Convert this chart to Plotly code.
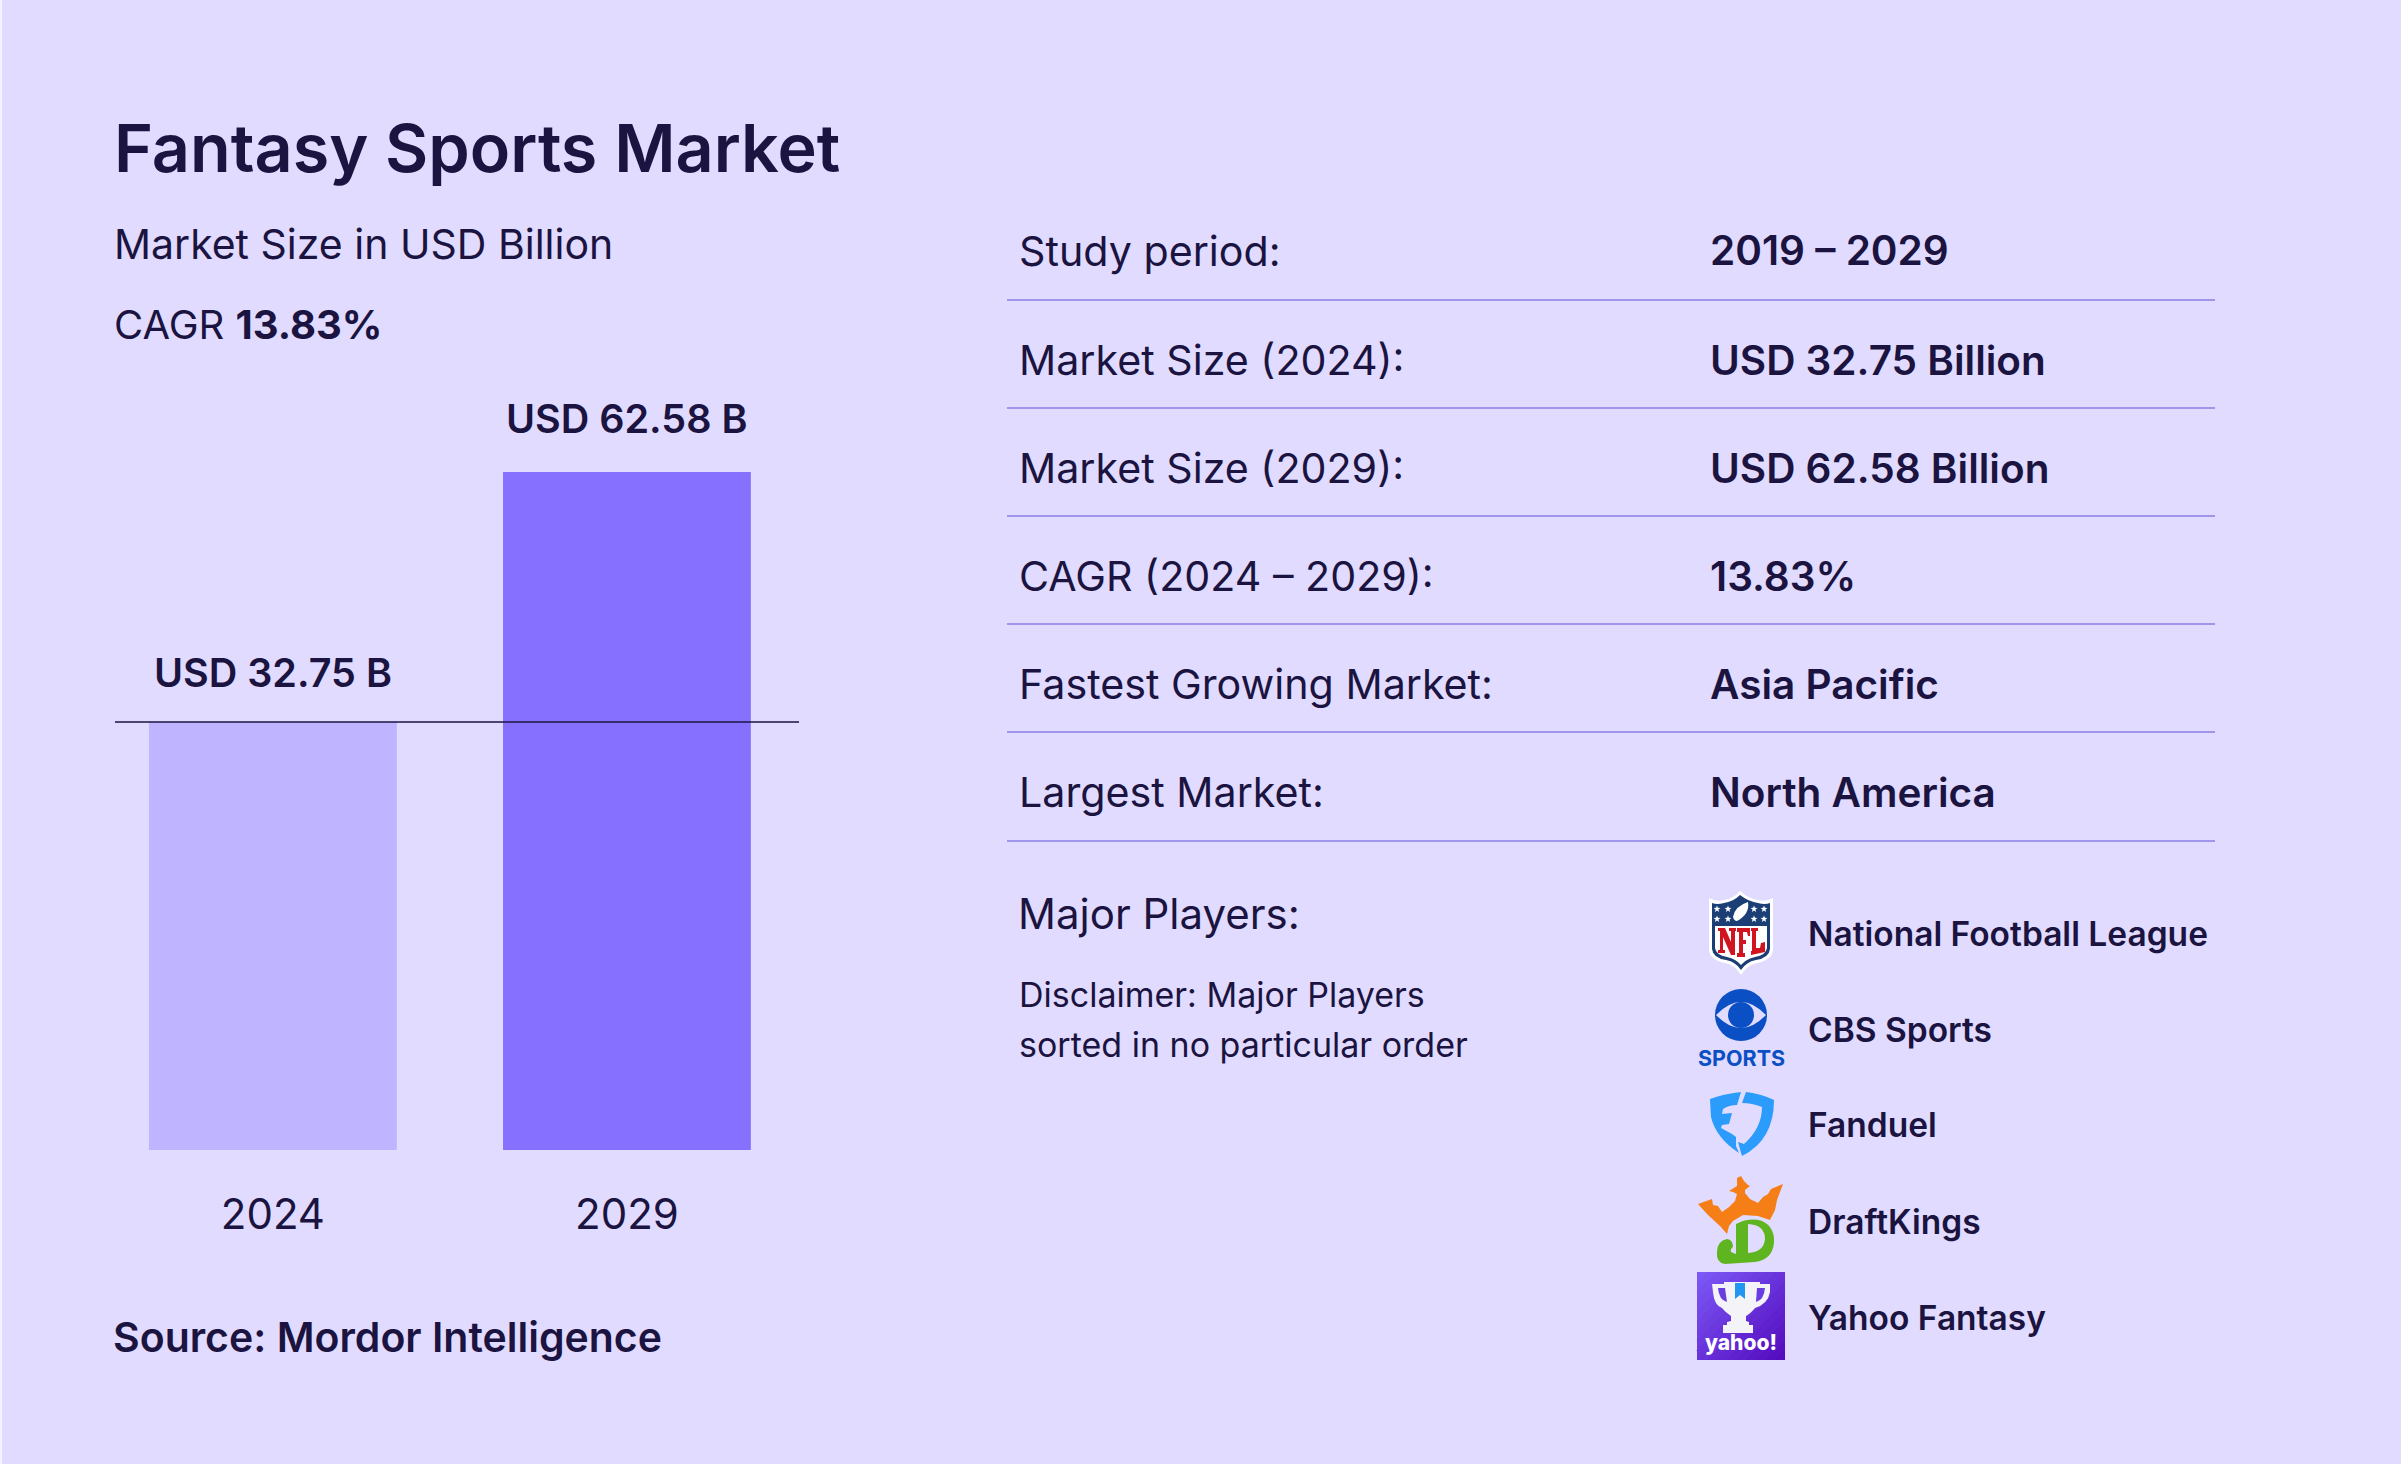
import re
import math
import plotly.graph_objects as go

W, H = 2401, 1464
BG = "#E0DBFF"
INK = "#1B1340"
RULE = "#8B80E6"
FONT = "Inter"

years = ["2024", "2029"]
market_size = [32.75, 62.58]
bar_colors = ["#BEB4FF", "#8670FF"]
bar_labels = ["USD 32.75 B", "USD 62.58 B"]

table_labels = ["Study period:", "Market Size (2024):", "Market Size (2029):",
                "CAGR (2024 – 2029):", "Fastest Growing Market:", "Largest Market:"]
table_values = ["2019 – 2029", "USD 32.75 Billion", "USD 62.58 Billion",
                "13.83%", "Asia Pacific", "North America"]
players = ["National Football League", "CBS Sports", "Fanduel", "DraftKings", "Yahoo Fantasy"]


def px(x):
    return x / W


def py(y):
    return 1 - y / H


def P(d):
    """Turn an SVG path written in page pixels into paper coordinates."""
    out, is_x = [], True
    for tok in re.findall(r"[A-Za-z]|-?\d+\.?\d*", d):
        if tok.isalpha():
            out.append(tok)
        else:
            v = float(tok)
            out.append(f"{px(v):.5f}" if is_x else f"{py(v):.5f}")
            is_x = not is_x
    return " ".join(out)


shapes = []
annots = []


def path(d, fill, line=None, lw=0):
    shapes.append(dict(type="path", xref="paper", yref="paper", path=P(d), fillcolor=fill,
                       line=dict(color=line or fill, width=lw), layer="above"))


def circle(cx, cy, rx, ry, fill):
    shapes.append(dict(type="circle", xref="paper", yref="paper", x0=px(cx - rx), x1=px(cx + rx),
                       y0=py(cy + ry), y1=py(cy - ry), fillcolor=fill, line=dict(width=0), layer="above"))


def hline(x0, x1, y, color, w=1.6):
    shapes.append(dict(type="line", xref="paper", yref="paper", x0=px(x0), x1=px(x1), y0=py(y), y1=py(y),
                       line=dict(color=color, width=w), layer="above"))


def text(x, y, s, size, weight=400, color=INK, anchor="left", family=FONT):
    annots.append(dict(xref="paper", yref="paper", x=px(x), y=py(y), text=s, showarrow=False,
                       xanchor=anchor, yanchor="middle", align=anchor,
                       font=dict(family=family, size=size, color=color, weight=weight)))


def star(cx, cy, r, fill="#FFFFFF"):
    pts = []
    for i in range(10):
        a = -math.pi / 2 + i * math.pi / 5
        rr = r if i % 2 == 0 else r * 0.42
        pts.append(f"{cx + rr * math.cos(a):.2f} {cy + rr * math.sin(a):.2f}")
    path("M " + " L ".join(pts) + " Z", fill)


# ---- page furniture
shapes.append(dict(type="rect", xref="paper", yref="paper", x0=0, x1=px(2), y0=0, y1=1,
                   fillcolor="#F4F2FF", line=dict(width=0), layer="above"))

# ---- headline texts
text(112, 148, "Fantasy Sports Market", 66.5, 600)
text(112, 244, "Market Size in USD Billion", 41, 400)
text(112, 324, "CAGR <b>13.83%</b>", 40, 400)
text(111, 1337, "Source: Mordor Intelligence", 41, 600)

# ---- table
row_y = [251, 360, 468, 576, 684, 792]
rule_y = [300, 408, 516, 624, 732, 841]
for y, a, b in zip(row_y, table_labels, table_values):
    text(1017, y, a, 41.2, 400)
    text(1708, y, b, 40.5, 600)
for y in rule_y:
    hline(1007, 2215, y, RULE)

text(1016, 913, "Major Players:", 42, 400)
text(1017, 995, "Disclaimer: Major Players", 34, 400)
text(1017, 1044, "sorted in no particular order", 34, 400)

for y, name in zip([934, 1030, 1125, 1222, 1318], players):
    text(1806, y, name, 33.5, 600)

# ---- NFL logo
path("M 1740 891 Q 1733 899 1724 900 Q 1716 902 1709 898 L 1709 950 Q 1710 960 1725 963 "
     "Q 1735 965 1741 975 Q 1747 965 1757 963 Q 1772 960 1773 950 L 1773 898 Q 1766 902 1758 900 "
     "Q 1749 899 1740 891 Z", "#FFFFFF")
path("M 1740 895 Q 1733 902 1724 903 Q 1717 905 1712 903 L 1712 949 Q 1713 958 1726 960 "
     "Q 1736 962 1741 970 Q 1746 962 1756 960 Q 1769 958 1770 949 L 1770 903 Q 1765 905 1758 903 "
     "Q 1749 902 1740 895 Z", "#1B3F75")
path("M 1715 926 L 1767 926 L 1767 948 Q 1766 955 1755 957 Q 1746 959 1741 965 "
     "Q 1736 959 1727 957 Q 1716 955 1715 948 Z", "#FFFFFF")
for sx in [1717, 1728, 1754, 1764]:
    for sy in [909, 919]:
        star(sx, sy, 3.6)
path("M 1733 917 Q 1735 906 1748 902 Q 1750 914 1737 921 Q 1734 921 1733 917 Z", "#FFFFFF")
RED = "#D01420"
path("M 1718 928 L 1725 928 L 1731 942 L 1731 931 L 1729 931 L 1729 928 L 1736 928 L 1736 931 L 1735 931 "
     "L 1735 955 L 1731 955 L 1723 937 L 1723 950 L 1725 950 L 1725 953 L 1718 953 L 1718 950 L 1720 950 "
     "L 1720 931 L 1718 931 Z", RED)
path("M 1737 928 L 1750 928 L 1750 936 L 1748 936 L 1747 932 L 1743 932 L 1743 940 L 1746 940 L 1746 944 "
     "L 1743 944 L 1743 953 L 1745 953 L 1745 957 L 1737 957 L 1737 953 L 1739 953 L 1739 932 L 1737 932 Z", RED)
path("M 1751 928 L 1758 928 L 1758 931 L 1756 931 L 1756 948 L 1760 948 L 1761 943 L 1765 942 L 1765 952 "
     "L 1751 955 L 1751 951 L 1752 951 L 1752 931 L 1751 931 Z", RED)

# ---- CBS Sports logo
circle(1741, 1015, 26, 26, "#0A4FC4")
path("M 1716 1015 Q 1741 989 1766 1015 Q 1741 1041 1716 1015 Z", BG)
circle(1741, 1015, 13, 13, "#0A4FC4")
text(1741, 1058, "SPORTS", 21.5, 700, "#0A4FC4", "center", "Inter")

# ---- FanDuel logo
BLUE = "#2B9CFB"
path("M 1710 1099 Q 1723 1094 1741 1092 L 1737 1105 Q 1729 1105 1723 1109 L 1722 1114 L 1732 1113 "
     "L 1729 1124 L 1722 1125 L 1721 1128 L 1732 1134 L 1736 1137 L 1736 1146 "
     "L 1739 1153 Q 1716 1138 1711 1117 Z", BLUE)
path("M 1746 1092 Q 1762 1094 1774 1100 Q 1774 1140 1742 1156 L 1738 1142 L 1744 1144 "
     "Q 1762 1128 1762 1107 Q 1752 1103 1742 1103 Z", BLUE)

# ---- DraftKings logo
ORANGE = "#F57F16"
GREEN = "#5FB51F"
path("M 1698 1204 L 1712 1199 L 1713 1205 L 1718 1206 L 1722 1212 L 1729 1207 L 1735 1201 L 1737 1194 "
     "L 1733 1192 L 1729 1191 L 1737 1186 L 1737 1178 L 1741 1176 L 1744 1181 L 1748 1185 L 1750 1186 "
     "L 1745 1190 L 1745 1193 L 1750 1199 L 1758 1203 L 1763 1197 L 1768 1194 L 1771 1189 L 1783 1184 "
     "L 1777 1200 L 1775 1210 L 1770 1220 L 1758 1216 L 1743 1215 L 1733 1221 L 1729 1226 L 1727 1234 "
     "L 1720 1226 L 1708 1215 Z", ORANGE)
path("M 1736 1224 Q 1750 1217 1762 1221 Q 1775 1227 1774 1243 Q 1772 1260 1755 1262 L 1725 1264 "
     "Q 1716 1263 1717 1252 Q 1717 1241 1727 1239 Q 1733 1240 1733 1247 Q 1730 1249 1731 1252 L 1736 1254 "
     "L 1736 1229 Z", GREEN)
path("M 1748 1224 Q 1765 1225 1765 1239 Q 1764 1252 1748 1253 Z", BG)

# ---- Yahoo Fantasy logo (diagonal gradient painted from corner bands)
x0, y0, sz_w, sz_h = 1697, 1272, 88, 88
c1, c2 = (124, 88, 246), (84, 12, 190)
steps = 18
for k in range(steps):
    u = 2 * k / steps
    t = k / (steps - 1)
    col = "#%02X%02X%02X" % tuple(round(a + (b - a) * t) for a, b in zip(c1, c2))
    if u <= 1:
        pts = [(u, 0), (1, 0), (1, 1), (0, 1), (0, u)]
    else:
        pts = [(1, u - 1), (1, 1), (u - 1, 1)]
    d = "M " + " L ".join(f"{x0 + a * sz_w:.2f} {y0 + b * sz_h:.2f}" for a, b in pts) + " Z"
    path(d, col)
path("M 1724 1282 L 1760 1282 L 1760 1284 L 1770 1284 L 1770 1292 Q 1768 1304 1755 1308 Q 1750 1314 1746 1316 "
     "L 1746 1321 L 1749 1322 L 1749 1325 L 1753 1325 L 1753 1333 L 1723 1333 L 1723 1325 L 1727 1325 "
     "L 1727 1322 L 1731 1321 L 1731 1316 Q 1725 1312 1722 1308 Q 1714 1305 1713 1292 L 1712 1284 L 1724 1284 Z",
     "#F4F4F8")
path("M 1718 1288 L 1725 1288 L 1727 1302 Q 1719 1300 1718 1288 Z", "#6A3DE0")
path("M 1757 1288 L 1765 1288 Q 1764 1300 1756 1302 Z", "#6A3DE0")
path("M 1735 1283 L 1745 1283 L 1745 1299 L 1740 1295 L 1735 1299 Z", "#2196F3")
text(1741, 1342, "yahoo!", 21, 800, "#FFFFFF", "center", "Inter")

# ---- the chart itself
fig = go.Figure(go.Bar(x=years, y=market_size, width=0.70, marker=dict(color=bar_colors, line=dict(width=0)),
                       showlegend=False, hoverinfo="skip"))

# value labels sit just above each bar top (log-axis annotation positions are log10 of the value)
for i, (v, lab) in enumerate(zip(market_size, bar_labels)):
    annots.append(dict(xref="x", yref="y", x=i, y=math.log10(v), yshift=[49, 53][i],
                       text=lab, showarrow=False, xanchor="center", yanchor="middle",
                       font=dict(family=FONT, size=39.5, color=INK, weight=600)))

# reference line level with the 2024 bar
shapes.append(dict(type="line", xref="x domain", yref="y", x0=0, x1=1, y0=market_size[0], y1=market_size[0],
                   line=dict(color=INK, width=1.6), layer="above"))

plot_left, plot_right = 115, 799
plot_top, plot_bottom = 400, 1150
# pixel scale chosen so the bars land on the picture's bar heights
y_px_per_decade = (722 - 472) / (math.log10(62.58) - math.log10(32.75))
y_lo = math.log10(32.75) - (1150 - 722) / y_px_per_decade
y_hi = y_lo + (plot_bottom - plot_top) / y_px_per_decade

fig.update_layout(
    width=W, height=H, margin=dict(l=0, r=0, t=0, b=0, pad=0),
    paper_bgcolor=BG, plot_bgcolor="rgba(0,0,0,0)",
    bargap=0.3, showlegend=False, shapes=shapes, annotations=annots,
    font=dict(family=FONT, color=INK),
    xaxis=dict(domain=[px(plot_left), px(plot_right)], type="category", categoryorder="array",
               categoryarray=years, range=[-0.446, 1.486], showgrid=False, zeroline=False, showline=False,
               ticks="", ticklabelstandoff=36,
               tickfont=dict(family=FONT, size=42, color=INK)),
    yaxis=dict(domain=[py(plot_bottom), py(plot_top)], type="log", range=[y_lo, y_hi], visible=False,
               showgrid=False, zeroline=False),
)

fig.write_html("out.html", config=dict(displayModeBar=False),
               post_script="document.body.style.margin='0';document.body.style.background='%s';" % BG)
